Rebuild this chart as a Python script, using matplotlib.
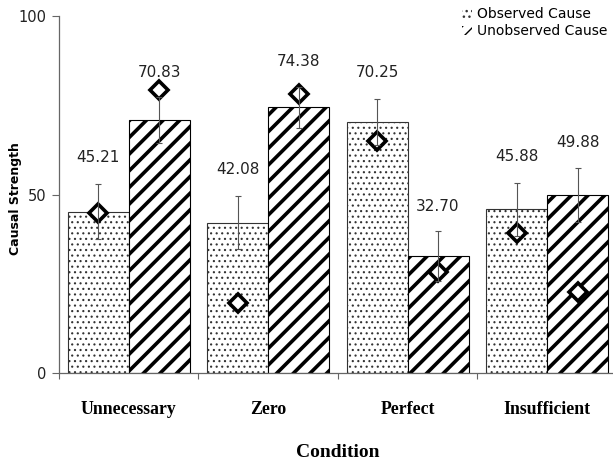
import matplotlib
matplotlib.use('Agg')
import matplotlib.pyplot as plt
from matplotlib.patches import Patch
import numpy as np

conditions = ['Unnecessary', 'Zero', 'Perfect', 'Insufficient']
observed = [45.21, 42.08, 70.25, 45.88]
unobserved = [70.83, 74.38, 32.70, 49.88]
observed_err = [7.7, 7.4, 6.5, 7.4]
unobserved_err = [6.4, 5.8, 7.0, 7.6]
# diamond markers (model predictions)
observed_pred = [44.8, 19.7, 65.0, 39.1]
unobserved_pred = [79.3, 78.2, 28.4, 22.8]

fig = plt.figure(figsize=(6.13, 4.61), dpi=100)
ax = fig.add_axes([58.8/613, 1-373/461, 558/613, (373-16)/461])

w = 0.437
x = np.arange(len(conditions)) + 0.5
xo = x - w/2
xu = x + w/2

with plt.rc_context({'hatch.linewidth': 0.8}):
    b1 = ax.bar(xo, observed, w, color='white', edgecolor='#333333', linewidth=0.8,
                hatch='...', zorder=2)
    h1 = Patch(facecolor='white', edgecolor='#333333', linewidth=0, hatch='...', label='Observed Cause')
with plt.rc_context({'hatch.linewidth': 2.6}):
    b2 = ax.bar(xu, unobserved, w, color='white', edgecolor='black', linewidth=0.8,
                hatch='//', zorder=2)
    h2 = Patch(facecolor='white', edgecolor='black', linewidth=0, hatch='///', label='Unobserved Cause')

ax.plot(xo, observed_pred, linestyle='none', marker='D', markersize=9.5, markerfacecolor='white',
        markeredgecolor='black', markeredgewidth=2.6, zorder=3)
ax.plot(xu, unobserved_pred, linestyle='none', marker='D', markersize=9.5, markerfacecolor='white',
        markeredgecolor='black', markeredgewidth=2.6, zorder=3)

ax.errorbar(xo, observed, yerr=observed_err, fmt='none', ecolor='#555555', elinewidth=0.8,
            capsize=2.5, capthick=0.8, zorder=4)
ax.errorbar(xu, unobserved, yerr=unobserved_err, fmt='none', ecolor='#555555', elinewidth=0.8,
            capsize=2.5, capthick=0.8, zorder=4)

for xi, v, e in zip(xo, observed, observed_err):
    ax.text(xi, v + e + 7.5, '%.2f' % v, ha='center', va='center', fontsize=11, color='#222222')
for xi, v, e in zip(xu, unobserved, unobserved_err):
    ax.text(xi, v + e + 7, '%.2f' % v, ha='center', va='center', fontsize=11, color='#222222')

ax.set_xlim(0, 4)
ax.set_ylim(0, 100)
ax.set_yticks([0, 50, 100])
ax.set_xticks([0, 1, 2, 3, 4])
ax.set_xticklabels([])
ax.set_xticks(x, minor=True)
ax.set_xticklabels(conditions, minor=True, fontfamily='Liberation Serif', fontweight='bold', fontsize=12.8)
ax.tick_params(axis='x', which='minor', length=0, pad=20)
ax.tick_params(axis='x', which='major', length=4, color='#666666')
ax.tick_params(axis='y', length=5, color='#666666', labelsize=10.5, labelcolor='#222222', pad=4)
for s in ['top', 'right']:
    ax.spines[s].set_visible(False)
for s in ['left', 'bottom']:
    ax.spines[s].set_color('#666666')
    ax.spines[s].set_linewidth(0.9)

ax.set_ylabel('Causal Strength', fontweight='bold', fontsize=9)
ax.yaxis.set_label_coords(-0.066, 0.49)
ax.set_xlabel('Condition', fontfamily='Liberation Serif', fontweight='bold', fontsize=14, labelpad=19)

leg = fig.legend(handles=[h1, h2], loc='upper left', bbox_to_anchor=(462/613, 1-7/461), frameon=False,
                 fontsize=10, handlelength=0.7, handleheight=0.7, handletextpad=0.4, labelspacing=0.25,
                 borderaxespad=0, borderpad=0)

fig.savefig('out.png', dpi=100)
